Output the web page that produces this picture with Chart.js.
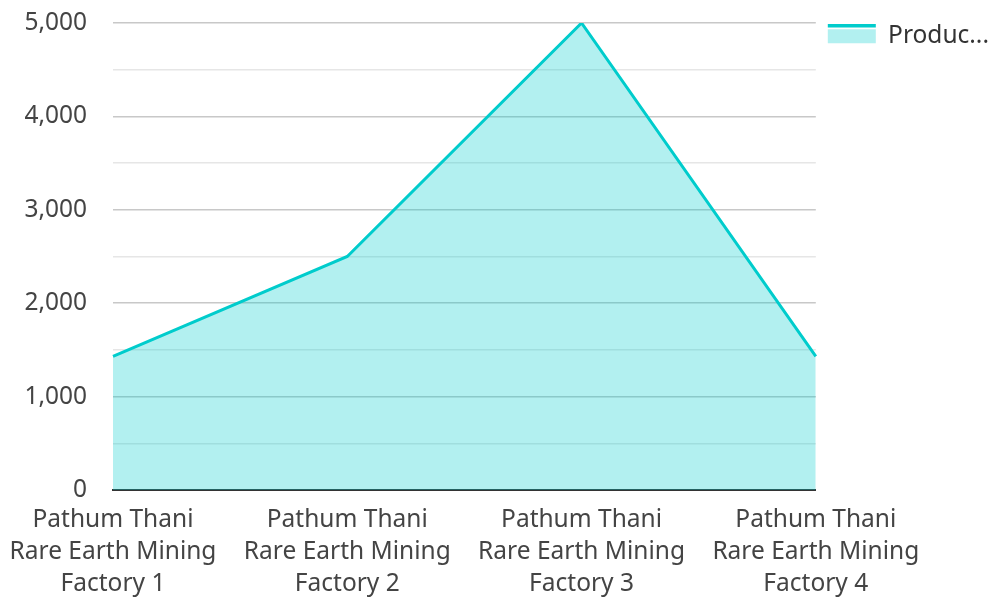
<!DOCTYPE html>
<html>
<head>
<meta charset="utf-8">
<script src="https://cdn.jsdelivr.net/npm/chart.js@4.4.1/dist/chart.umd.min.js"></script>
<style>
  html, body { margin: 0; padding: 0; background: #fff; }
  #wrap { width: 1002px; height: 597px; }
</style>
</head>
<body>
<div id="wrap"><canvas id="chart"></canvas></div>
<script>
const factories = [
  ["Pathum Thani", "Rare Earth Mining", "Factory 1"],
  ["Pathum Thani", "Rare Earth Mining", "Factory 2"],
  ["Pathum Thani", "Rare Earth Mining", "Factory 3"],
  ["Pathum Thani", "Rare Earth Mining", "Factory 4"],
];
const production = [1430, 2500, 5000, 1430];
const seriesName = "Produc...";

// thick line on top of the legend swatch
const legendLine = {
  id: "legendLine",
  afterDraw(chart) {
    const legend = chart.legend;
    if (!legend || !legend.legendHitBoxes) return;
    const ctx = chart.ctx;
    legend.legendHitBoxes.forEach((box) => {
      ctx.save();
      ctx.strokeStyle = "#00cccc";
      ctx.lineWidth = 3.5;
      ctx.beginPath();
      ctx.moveTo(box.left, box.top + 1.75);
      ctx.lineTo(box.left + 48, box.top + 1.75);
      ctx.stroke();
      ctx.restore();
    });
  },
};

const ctx = document.getElementById("chart").getContext("2d");
new Chart(ctx, {
  type: "line",
  data: {
    labels: factories,
    datasets: [
      {
        label: seriesName,
        data: production,
        borderColor: "#00cccc",
        backgroundColor: "rgba(0, 204, 204, 0.3)",
        borderWidth: 3,
        fill: "origin",
        pointRadius: 0,
        pointHoverRadius: 0,
        tension: 0,
      },
    ],
  },
  options: {
    responsive: true,
    maintainAspectRatio: false,
    animation: false,
    layout: { autoPadding: false, padding: { top: 0, right: 3, left: 6 } },
    plugins: {
      tooltip: { enabled: false },
      legend: {
        position: "right",
        align: "start",
        title: {
          display: true,
          text: " ",
          font: { size: 10 },
          padding: 0,
        },
        labels: {
          boxWidth: 48,
          boxHeight: 14,
          padding: 12,
          color: "#333",
          font: { family: "Noto Sans", size: 24.5 },
          generateLabels: function (chart) {
            return chart.data.datasets.map((ds, i) => ({
              text: ds.label,
              fontColor: "#333",
              fillStyle: "rgba(0, 204, 204, 0.3)",
              strokeStyle: "rgba(0,0,0,0)",
              lineWidth: 0,
              datasetIndex: i,
            }));
          },
        },
      },
    },
    scales: {
      x: {
        offset: false,
        grid: { display: false },
        border: { display: true, color: "#333", width: 2 },
        afterFit: function (scale) {
          scale.height = 107;
        },
        ticks: {
          color: "#444",
          maxRotation: 0,
          autoSkip: false,
          padding: 6,
          font: { family: "Noto Sans", size: 24.5, lineHeight: 1.3 },
        },
      },
      y: {
        min: 0,
        max: 5000,
        border: { display: false },
        afterFit: function (scale) {
          scale.width = 107;
          scale.paddingTop = 23;
          scale.paddingBottom = 0;
        },
        grid: {
          drawTicks: false,
          color: function (c) {
            return c.tick.value % 1000 === 0 ? "#c8c8c8" : "#e6e6e6";
          },
          lineWidth: 1.5,
        },
        ticks: {
          stepSize: 500,
          color: "#444",
          padding: 26,
          font: { family: "Noto Sans", size: 24.5 },
          callback: function (value) {
            return value % 1000 === 0 ? value.toLocaleString("en-US") : "";
          },
        },
      },
    },
  },
  plugins: [legendLine],
});
</script>
</body>
</html>
